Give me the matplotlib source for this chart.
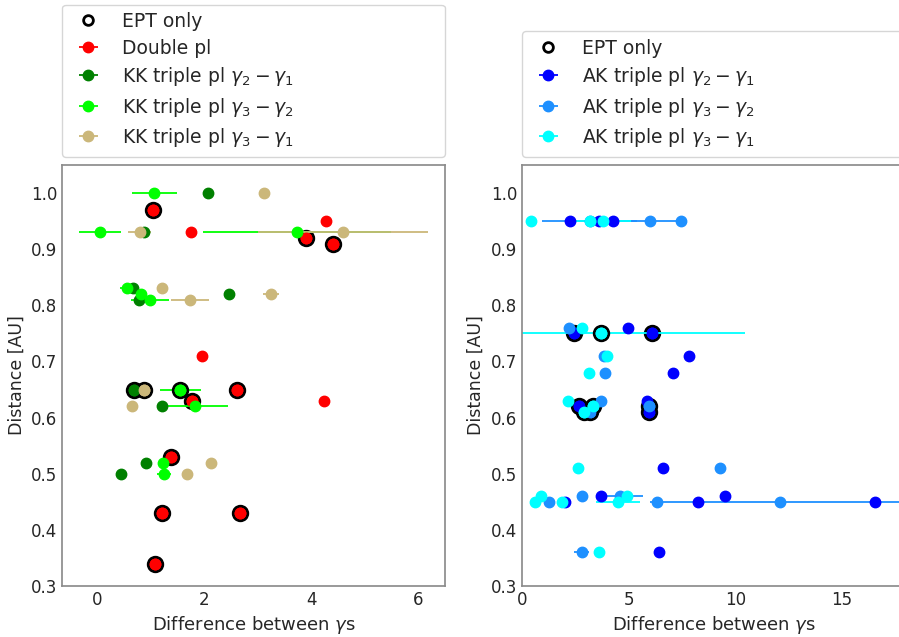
import numpy as np
import matplotlib
matplotlib.use("Agg")
import matplotlib.pyplot as plt

plt.rcParams['axes.edgecolor'] = '0.55'
plt.rcParams['axes.linewidth'] = 1.25
plt.rcParams['xtick.color'] = '0.15'
plt.rcParams['ytick.color'] = '0.15'
plt.rcParams['axes.labelcolor'] = '0.15'
plt.rcParams['text.color'] = '0.15'
plt.rcParams['xtick.major.size'] = 0
plt.rcParams['ytick.major.size'] = 0

# ---- Kahler-Kosovichev fits (left) ----
dbl_x = [1.04, 4.28, 1.76, 3.91, 4.40, 1.96, 2.61, 1.78, 4.24, 1.38, 1.21, 2.68, 1.08]
dbl_y = [0.97, 0.95, 0.93, 0.92, 0.91, 0.71, 0.65, 0.63, 0.63, 0.53, 0.43, 0.43, 0.34]
dbl_err = [0, 0, 0, 0, 0, 0, 0, 0, 0, 0, 0, 0, 0]
dbl_ept = [1, 0, 0, 1, 1, 0, 1, 1, 0, 1, 1, 1, 1]

kk21_x = [2.07, 0.88, 0.67, 2.46, 0.78, 0.70, 1.21, 0.92, 0.45]
kk21_y = [1.00, 0.93, 0.83, 0.82, 0.81, 0.65, 0.62, 0.52, 0.50]
kk21_err = [0, 0, 0, 0, 0, 0, 0, 0, 0]
kk21_ept = [0, 0, 0, 0, 0, 1, 0, 0, 0]

kk32_x = [1.07, 0.06, 3.74, 0.57, 0.83, 0.99, 1.56, 1.84, 1.24, 1.26]
kk32_y = [1.00, 0.93, 0.93, 0.83, 0.82, 0.81, 0.65, 0.62, 0.52, 0.50]
kk32_err = [0.42, 0.40, 1.75, 0.14, 0, 0.36, 0.38, 0.60, 0, 0.13]
kk32_ept = [0, 0, 0, 0, 0, 0, 1, 0, 0, 0]

kk31_x = [3.12, 0.80, 4.60, 1.21, 3.25, 1.74, 0.88, 0.66, 2.14, 1.68]
kk31_y = [1.00, 0.93, 0.93, 0.83, 0.82, 0.81, 0.65, 0.62, 0.52, 0.50]
kk31_err = [0, 0.22, 1.59, 0, 0.15, 0.36, 0, 0, 0, 0]
kk31_ept = [0, 0, 0, 0, 0, 0, 1, 0, 0, 0]

# ---- AK fits (right) ----
ak21_x = [2.23, 3.60, 4.26, 4.99, 2.42, 6.09, 7.84, 7.06, 5.84, 2.68, 5.93,
          6.63, 3.68, 9.52, 2.03, 8.24, 16.55, 6.43]
ak21_y = [0.95, 0.95, 0.95, 0.76, 0.75, 0.75, 0.71, 0.68, 0.63, 0.62, 0.61,
          0.51, 0.46, 0.46, 0.45, 0.45, 0.45, 0.36]
ak21_err = [0] * len(ak21_x)
ak21_ept = [0, 0, 0, 0, 1, 1, 0, 0, 0, 1, 1, 0, 0, 0, 0, 0, 0, 0]

ak32_x = [3.17, 6.01, 7.46, 2.22, 3.82, 3.90, 3.69, 3.20, 5.97, 9.27, 2.82,
          4.60, 1.29, 6.34, 12.07, 2.79]
ak32_y = [0.95, 0.95, 0.95, 0.76, 0.71, 0.68, 0.63, 0.61, 0.62, 0.51, 0.46,
          0.46, 0.45, 0.45, 0.45, 0.36]
ak32_err = [2.23, 1.45, 0, 0, 0, 0, 0, 0, 0, 0, 0, 1.05, 0, 0, 6.05, 0.37]
ak32_ept = [0, 0, 0, 0, 0, 0, 0, 1, 1, 0, 0, 0, 0, 0, 0, 0]

ak31_x = [0.44, 3.17, 3.79, 2.79, 3.68, 3.98, 3.15, 2.14, 2.90, 3.31, 2.64,
          0.90, 4.93, 0.62, 1.87, 4.50, 3.62]
ak31_y = [0.95, 0.95, 0.95, 0.76, 0.75, 0.71, 0.68, 0.63, 0.61, 0.62, 0.51,
          0.46, 0.46, 0.45, 0.45, 0.45, 0.36]
ak31_err = [0, 0, 1.33, 0, 6.78, 0, 0, 0, 0, 0, 0, 0, 0, 0, 0, 1.03, 0]
ak31_ept = [0, 0, 0, 0, 1, 0, 0, 0, 1, 1, 0, 0, 0, 0, 0, 0, 0]

left_series = [
    (dbl_x, dbl_y, dbl_err, dbl_ept, 'red', 'Double pl'),
    (kk21_x, kk21_y, kk21_err, kk21_ept, 'green', r'KK triple pl $\gamma_2 - \gamma_1$'),
    (kk32_x, kk32_y, kk32_err, kk32_ept, 'lime', r'KK triple pl $\gamma_3 - \gamma_2$'),
    (kk31_x, kk31_y, kk31_err, kk31_ept, '#cbb77a', r'KK triple pl $\gamma_3 - \gamma_1$'),
]
right_series = [
    (ak21_x, ak21_y, ak21_err, ak21_ept, 'blue', r'AK triple pl $\gamma_2 - \gamma_1$'),
    (ak32_x, ak32_y, ak32_err, ak32_ept, 'dodgerblue', r'AK triple pl $\gamma_3 - \gamma_2$'),
    (ak31_x, ak31_y, ak31_err, ak31_ept, 'cyan', r'AK triple pl $\gamma_3 - \gamma_1$'),
]


def draw(ax, series):
    # empty handle so the legend explains the black-rimmed markers
    ax.plot([], [], 'o', mfc='none', mec='k', mew=2, ms=7, label='EPT only')
    for x, y, err, ept, c, lab in series:
        x = np.array(x)
        y = np.array(y)
        ept = np.array(ept, dtype=bool)
        ax.errorbar(x, y, xerr=err, fmt='o', color=c, ms=7.5, elinewidth=1.3, label=lab)
        ax.plot(x[ept], y[ept], 'o', color=c, ms=10.5, mec='k', mew=2)
    ax.set_ylim(0.3, 1.05)
    ax.set_yticks(np.arange(0.3, 1.01, 0.1))
    ax.set_xlabel(r'Difference between $\gamma$s', fontsize=13)
    ax.set_ylabel('Distance [AU]', fontsize=12.5)
    ax.tick_params(labelsize=12)
    ax.legend(loc='lower left', bbox_to_anchor=(0, 1.02, 1, 0.2), mode='expand',
              fontsize=13.5, labelspacing=0.4, borderaxespad=0)


fig = plt.figure(figsize=(8.99, 6.37), dpi=100)
ax1 = fig.add_axes([0.069, 0.080, 0.426, 0.661])
ax2 = fig.add_axes([0.5806, 0.080, 0.426, 0.661])

draw(ax1, left_series)
ax1.set_xlim(-0.65, 6.5)
ax1.set_xticks([0, 2, 4, 6])

draw(ax2, right_series)
ax2.set_xlim(0, 17.94)
ax2.set_xticks([0, 5, 10, 15])

fig.savefig('out.png', dpi=100)
